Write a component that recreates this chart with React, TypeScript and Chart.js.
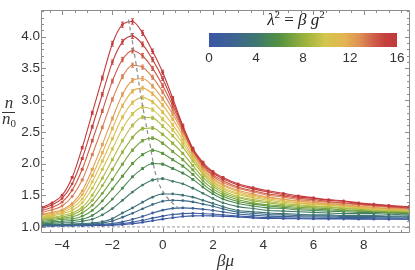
import React, { useEffect, useRef } from "react";
import { Chart, registerables } from "chart.js";
Chart.register(...registerables);

// ---------- data ----------
const betaMu = [-4.8, -4.4, -4.0, -3.6, -3.2, -2.8, -2.4, -2.0, -1.6, -1.2, -0.8, -0.4, 0, 0.4, 0.8, 1.2, 1.6, 2.0, 2.4, 3.0, 3.6, 4.2, 4.8, 5.4, 6.0, 6.6, 7.2, 7.8, 8.4, 9.0, 9.8];
const lambda2 = [0, 0.9, 1.8, 2.7, 3.6, 4.4, 5.3, 6.2, 7.1, 8.0, 8.9, 9.8, 10.7, 11.6, 12.4, 13.3, 14.2, 15.1, 16];

const nA = [1.015, 1.016, 1.017, 1.018, 1.02, 1.022, 1.024, 1.028, 1.037, 1.052, 1.072, 1.098, 1.123, 1.146, 1.165, 1.175, 1.176, 1.175, 1.169, 1.159, 1.143, 1.135, 1.131, 1.128, 1.126, 1.125, 1.124, 1.123, 1.122, 1.121, 1.12];
const nB = [1.02, 1.021, 1.023, 1.024, 1.026, 1.028, 1.031, 1.038, 1.052, 1.075, 1.105, 1.14, 1.17, 1.195, 1.21, 1.215, 1.21, 1.203, 1.19, 1.172, 1.158, 1.147, 1.143, 1.138, 1.136, 1.135, 1.132, 1.131, 1.13, 1.129, 1.125];
const nC = [1.025, 1.027, 1.03, 1.032, 1.035, 1.038, 1.043, 1.053, 1.08, 1.12, 1.165, 1.22, 1.265, 1.293, 1.30, 1.293, 1.278, 1.26, 1.237, 1.205, 1.185, 1.17, 1.165, 1.158, 1.156, 1.155, 1.148, 1.147, 1.146, 1.145, 1.14];
const nD = [1.03, 1.033, 1.036, 1.039, 1.044, 1.05, 1.063, 1.093, 1.153, 1.215, 1.285, 1.355, 1.405, 1.42, 1.415, 1.395, 1.36, 1.325, 1.285, 1.235, 1.215, 1.195, 1.19, 1.18, 1.175, 1.175, 1.165, 1.165, 1.165, 1.16, 1.155];
const nE = [1.035, 1.038, 1.042, 1.046, 1.052, 1.062, 1.082, 1.13, 1.22, 1.30, 1.39, 1.47, 1.52, 1.52, 1.50, 1.47, 1.42, 1.37, 1.32, 1.26, 1.24, 1.22, 1.21, 1.20, 1.19, 1.19, 1.18, 1.18, 1.18, 1.17, 1.17];
const nF = [1.05, 1.06, 1.065, 1.07, 1.09, 1.12, 1.19, 1.29, 1.42, 1.55, 1.66, 1.74, 1.76, 1.72, 1.68, 1.61, 1.53, 1.45, 1.38, 1.32, 1.29, 1.26, 1.25, 1.24, 1.23, 1.22, 1.21, 1.21, 1.21, 1.20, 1.19];
const nG = [1.07, 1.08, 1.09, 1.10, 1.12, 1.18, 1.29, 1.44, 1.61, 1.79, 1.92, 2.00, 1.99, 1.92, 1.85, 1.75, 1.63, 1.52, 1.44, 1.37, 1.33, 1.30, 1.29, 1.27, 1.26, 1.25, 1.24, 1.23, 1.23, 1.22, 1.21];
const nH = [1.09, 1.10, 1.12, 1.13, 1.17, 1.26, 1.41, 1.60, 1.80, 2.00, 2.14, 2.21, 2.16, 2.06, 1.96, 1.83, 1.68, 1.56, 1.48, 1.40, 1.36, 1.33, 1.31, 1.29, 1.28, 1.27, 1.26, 1.25, 1.24, 1.23, 1.22];
const nI = [1.11, 1.12, 1.14, 1.16, 1.22, 1.34, 1.53, 1.75, 1.99, 2.21, 2.36, 2.40, 2.32, 2.19, 2.06, 1.90, 1.73, 1.60, 1.51, 1.43, 1.38, 1.35, 1.33, 1.31, 1.30, 1.29, 1.27, 1.26, 1.25, 1.24, 1.23];
const nJ = [1.13, 1.14, 1.16, 1.19, 1.27, 1.42, 1.65, 1.91, 2.18, 2.41, 2.55, 2.56, 2.46, 2.32, 2.16, 1.97, 1.78, 1.64, 1.54, 1.46, 1.41, 1.38, 1.35, 1.33, 1.32, 1.31, 1.29, 1.28, 1.26, 1.25, 1.24];
const nK = [1.14, 1.15, 1.18, 1.22, 1.31, 1.50, 1.77, 2.06, 2.36, 2.60, 2.73, 2.72, 2.59, 2.44, 2.26, 2.04, 1.83, 1.67, 1.57, 1.48, 1.43, 1.40, 1.37, 1.35, 1.33, 1.32, 1.30, 1.29, 1.27, 1.26, 1.25];
const nL = [1.16, 1.17, 1.21, 1.26, 1.38, 1.61, 1.91, 2.23, 2.55, 2.78, 2.89, 2.85, 2.70, 2.53, 2.32, 2.08, 1.86, 1.70, 1.60, 1.51, 1.46, 1.42, 1.39, 1.37, 1.35, 1.34, 1.32, 1.30, 1.28, 1.27, 1.26];
const nM = [1.17, 1.19, 1.23, 1.30, 1.44, 1.71, 2.04, 2.39, 2.73, 2.96, 3.04, 2.97, 2.81, 2.61, 2.38, 2.11, 1.88, 1.72, 1.62, 1.53, 1.48, 1.44, 1.41, 1.38, 1.36, 1.35, 1.33, 1.31, 1.29, 1.28, 1.27];
const nN = [1.19, 1.21, 1.25, 1.34, 1.51, 1.81, 2.17, 2.55, 2.91, 3.14, 3.19, 3.10, 2.92, 2.70, 2.44, 2.15, 1.91, 1.75, 1.65, 1.56, 1.50, 1.46, 1.43, 1.40, 1.38, 1.36, 1.34, 1.32, 1.30, 1.29, 1.28];
const nO = [1.20, 1.23, 1.27, 1.37, 1.57, 1.91, 2.30, 2.71, 3.09, 3.31, 3.34, 3.22, 3.02, 2.78, 2.49, 2.18, 1.93, 1.77, 1.67, 1.58, 1.52, 1.47, 1.44, 1.41, 1.39, 1.37, 1.35, 1.33, 1.31, 1.29, 1.28];
const nP = [1.23, 1.27, 1.33, 1.48, 1.74, 2.14, 2.57, 3.01, 3.37, 3.55, 3.52, 3.36, 3.13, 2.85, 2.52, 2.20, 1.96, 1.80, 1.70, 1.61, 1.55, 1.50, 1.47, 1.43, 1.41, 1.39, 1.37, 1.35, 1.33, 1.31, 1.29];
const nQ = [1.26, 1.31, 1.39, 1.58, 1.91, 2.36, 2.83, 3.30, 3.64, 3.78, 3.70, 3.50, 3.23, 2.91, 2.55, 2.21, 1.98, 1.82, 1.73, 1.63, 1.57, 1.52, 1.49, 1.45, 1.43, 1.40, 1.38, 1.36, 1.34, 1.32, 1.30];
const nR = [1.29, 1.35, 1.45, 1.68, 2.08, 2.58, 3.09, 3.60, 3.92, 4.01, 3.88, 3.64, 3.34, 2.97, 2.58, 2.23, 2.00, 1.85, 1.76, 1.66, 1.60, 1.55, 1.51, 1.47, 1.45, 1.42, 1.40, 1.37, 1.35, 1.33, 1.31];
const nS = [1.31, 1.38, 1.50, 1.78, 2.25, 2.80, 3.35, 3.89, 4.19, 4.24, 4.06, 3.77, 3.44, 3.03, 2.60, 2.24, 2.02, 1.87, 1.78, 1.68, 1.62, 1.57, 1.53, 1.49, 1.46, 1.43, 1.41, 1.38, 1.36, 1.34, 1.32];
const series = [nA, nB, nC, nD, nE, nF, nG, nH, nI, nJ, nK, nL, nM, nN, nO, nP, nQ, nR, nS];

const peakLocusX = [-1.36, -1.09, -0.9, -0.69, -0.5, -0.23, 0.17, 0.72];
const peakLocusY = [4.27, 3.65, 3.15, 2.68, 2.29, 1.77, 1.47, 1.26];
const baselineX = [-4.8, 9.8];
const baselineY = [1.0, 1.0];

const xTicks = [-4, -2, 0, 2, 4, 6, 8];
const yTicks = [1.0, 1.5, 2.0, 2.5, 3.0, 3.5, 4.0];
const colorbarTicks = [0, 4, 8, 12, 16];
const lambdaMax = 16;

// ---------- style ----------
const cmapStops: [number, number[]][] = [
  [0.0, [60, 86, 165]],
  [0.12, [60, 98, 148]],
  [0.25, [62, 118, 112]],
  [0.375, [84, 146, 66]],
  [0.5, [150, 177, 62]],
  [0.62, [210, 198, 78]],
  [0.72, [228, 180, 82]],
  [0.8, [222, 146, 86]],
  [0.88, [206, 92, 72]],
  [0.94, [196, 63, 63]],
  [1.0, [194, 58, 60]],
];
function cmap(t: number): string {
  t = Math.max(0, Math.min(1, t));
  for (let i = 1; i < cmapStops.length; i++) {
    const [t1, c1] = cmapStops[i];
    const [t0, c0] = cmapStops[i - 1];
    if (t <= t1) {
      const f = (t - t0) / (t1 - t0);
      const c = c0.map((v, j) => Math.round(v + (c1[j] - v) * f));
      return `rgb(${c[0]},${c[1]},${c[2]})`;
    }
  }
  const c = cmapStops[cmapStops.length - 1][1];
  return `rgb(${c[0]},${c[1]},${c[2]})`;
}

const SANS = '"Liberation Sans", Arial, sans-serif';
const SERIF = '"Liberation Serif", "Times New Roman", serif';
const TEXT = "#333";
const FRAME = "#8c8c8c";

const errorBarPlugin = {
  id: "errorBars",
  afterDatasetDraw(chart: any, args: any) {
    const ds = chart.data.datasets[args.index];
    if (!ds.errBars) return;
    const ctx = chart.ctx;
    const ys = chart.scales.y;
    const ca = chart.chartArea;
    ctx.save();
    ctx.beginPath();
    ctx.rect(ca.left, ca.top, ca.right - ca.left, ca.bottom - ca.top);
    ctx.clip();
    ctx.strokeStyle = ds.borderColor;
    ctx.lineWidth = 0.9;
    args.meta.data.forEach((el: any, i: number) => {
      const v = ds.data[i].y;
      const e = 0.012 * (v - 1) + 0.003;
      const yTop = ys.getPixelForValue(v + e);
      const yBot = ys.getPixelForValue(v - e);
      if (yBot - yTop < 1.5) return;
      ctx.beginPath();
      ctx.moveTo(el.x, yTop);
      ctx.lineTo(el.x, yBot);
      ctx.moveTo(el.x - 1.5, yTop);
      ctx.lineTo(el.x + 1.5, yTop);
      ctx.moveTo(el.x - 1.5, yBot);
      ctx.lineTo(el.x + 1.5, yBot);
      ctx.stroke();
    });
    ctx.restore();
  },
};

function drawRuns(ctx: CanvasRenderingContext2D, runs: any[], cx: number, cy: number) {
  let w = 0;
  runs.forEach((r) => {
    ctx.font = r.f;
    w += ctx.measureText(r.t).width;
  });
  let x = cx - w / 2;
  ctx.textAlign = "left";
  ctx.textBaseline = "alphabetic";
  runs.forEach((r) => {
    ctx.font = r.f;
    ctx.fillText(r.t, x, cy + (r.dy || 0));
    x += ctx.measureText(r.t).width;
  });
}

const framePlugin = {
  id: "frameDecor",
  afterDraw(chart: any) {
    const ctx = chart.ctx as CanvasRenderingContext2D;
    const { left, right, top, bottom } = chart.chartArea;
    const xs = chart.scales.x;
    const ys = chart.scales.y;
    ctx.save();
    ctx.strokeStyle = FRAME;
    ctx.lineWidth = 1;
    const L = Math.floor(left) - 0.5;
    const R = Math.round(right) + 0.5;
    const T = Math.round(top) + 0.5;
    const B = Math.round(bottom) + 0.5;
    ctx.beginPath();
    ctx.rect(L, T, R - L, B - T);
    ctx.stroke();
    ctx.beginPath();
    for (let v = Math.ceil(xs.min / 0.5) * 0.5; v <= xs.max + 1e-9; v += 0.5) {
      const major = xTicks.some((t) => Math.abs(t - v) < 1e-6);
      const len = major ? 4.5 : 2.5;
      const px = Math.round(xs.getPixelForValue(v)) + 0.5;
      ctx.moveTo(px, B);
      ctx.lineTo(px, B - len);
      ctx.moveTo(px, T);
      ctx.lineTo(px, T + len);
    }
    for (let v = Math.ceil(ys.min / 0.1) * 0.1; v <= ys.max + 1e-9; v += 0.1) {
      const major = yTicks.some((t) => Math.abs(t - v) < 1e-6);
      const len = major ? 4.5 : 2.5;
      const py = Math.round(ys.getPixelForValue(v)) + 0.5;
      ctx.moveTo(L, py);
      ctx.lineTo(L + len, py);
      ctx.moveTo(R, py);
      ctx.lineTo(R - len, py);
    }
    ctx.stroke();

    ctx.fillStyle = TEXT;
    drawRuns(ctx, [{ t: "βμ", f: `italic 17px ${SERIF}` }], (left + right) / 2, 266);
    drawRuns(ctx, [{ t: "n", f: `italic 17px ${SERIF}` }], 9, 108);
    ctx.strokeStyle = TEXT;
    ctx.lineWidth = 1;
    ctx.beginPath();
    ctx.moveTo(2, 112.5);
    ctx.lineTo(15, 112.5);
    ctx.stroke();
    drawRuns(ctx, [{ t: "n", f: `italic 17px ${SERIF}` }, { t: "0", f: `11px ${SERIF}`, dy: 3 }], 9, 124);

    const cb = { x0: 209, x1: 397, y0: 33, y1: 47 };
    const grad = ctx.createLinearGradient(cb.x0, 0, cb.x1, 0);
    cmapStops.forEach(([t]) => grad.addColorStop(t, cmap(t)));
    ctx.fillStyle = grad;
    ctx.fillRect(cb.x0, cb.y0, cb.x1 - cb.x0, cb.y1 - cb.y0);
    ctx.fillStyle = TEXT;
    ctx.font = `13.5px ${SANS}`;
    ctx.textAlign = "center";
    ctx.textBaseline = "middle";
    colorbarTicks.forEach((v) => {
      const x = cb.x0 + (v / lambdaMax) * (cb.x1 - cb.x0);
      ctx.fillText(String(v), x, 58);
    });
    ctx.fillStyle = "#222";
    drawRuns(
      ctx,
      [
        { t: "λ", f: `italic 17px ${SERIF}` },
        { t: "2", f: `11px ${SERIF}`, dy: -7 },
        { t: " = ", f: `17px ${SERIF}` },
        { t: "β", f: `italic 17px ${SERIF}` },
        { t: " g", f: `italic 17px ${SERIF}` },
        { t: "2", f: `11px ${SERIF}`, dy: -7 },
      ],
      296,
      25
    );
    ctx.restore();
  },
};

export default function App() {
  const ref = useRef<HTMLCanvasElement | null>(null);
  useEffect(() => {
    if (!ref.current) return;
    const curveSets = series.map((vals, k) => {
      const col = cmap(lambda2[k] / lambdaMax);
      return {
        label: `λ²=${lambda2[k]}`,
        data: vals.map((v, i) => ({ x: betaMu[i], y: v })),
        borderColor: col,
        backgroundColor: col,
        borderWidth: 1.1,
        pointRadius: 1.4,
        pointBorderWidth: 0,
        pointBackgroundColor: col,
        cubicInterpolationMode: "monotone",
        errBars: true,
        order: 2 + (series.length - k),
      };
    });
    const locus = {
      label: "peak",
      data: peakLocusX.map((x, i) => ({ x, y: peakLocusY[i] })),
      borderColor: "#8a8a8a",
      borderWidth: 1.2,
      borderDash: [4, 3],
      pointRadius: 0,
      tension: 0.4,
      order: 0,
    };
    const base = {
      label: "base",
      data: baselineX.map((x, i) => ({ x, y: baselineY[i] })),
      borderColor: "#999",
      borderWidth: 1,
      borderDash: [3, 2],
      pointRadius: 0,
      order: 40,
    };
    const chart = new Chart(ref.current, {
      type: "line",
      data: { datasets: [...curveSets, locus, base] as any },
      options: {
        animation: false,
        responsive: false,
        devicePixelRatio: 1,
        layout: { padding: { left: 0, right: 6, top: 5, bottom: 0 } },
        plugins: { legend: { display: false }, tooltip: { enabled: false } },
        scales: {
          x: {
            type: "linear",
            min: -4.8,
            max: 9.8,
            afterFit: (s: any) => {
              s.height = 38;
            },
            afterBuildTicks: (s: any) => {
              s.ticks = xTicks.map((v) => ({ value: v }));
            },
            grid: { display: false, drawTicks: false },
            border: { display: false },
            ticks: {
              autoSkip: false,
              maxRotation: 0,
              padding: 5,
              color: TEXT,
              font: { family: SANS, size: 13.5 },
              callback: (v: any) => (Number(v) < 0 ? "\u2212" + Math.abs(Number(v)) : String(v)),
            },
          },
          y: {
            type: "linear",
            min: 0.92,
            max: 4.42,
            afterFit: (s: any) => {
              s.width = 42;
            },
            afterBuildTicks: (s: any) => {
              s.ticks = yTicks.map((v) => ({ value: v }));
            },
            grid: { display: false, drawTicks: false },
            border: { display: false },
            ticks: {
              autoSkip: false,
              padding: 2,
              color: TEXT,
              font: { family: SANS, size: 13.5 },
              callback: (v: any) => Number(v).toFixed(1),
            },
          },
        },
      } as any,
      plugins: [errorBarPlugin, framePlugin],
    });
    return () => chart.destroy();
  }, []);
  return (
    <div style={{ position: "fixed", left: 0, top: 0, width: 415, height: 270, background: "#fff" }}>
      <canvas ref={ref} width={415} height={270} style={{ display: "block", width: 415, height: 270 }} />
    </div>
  );
}
